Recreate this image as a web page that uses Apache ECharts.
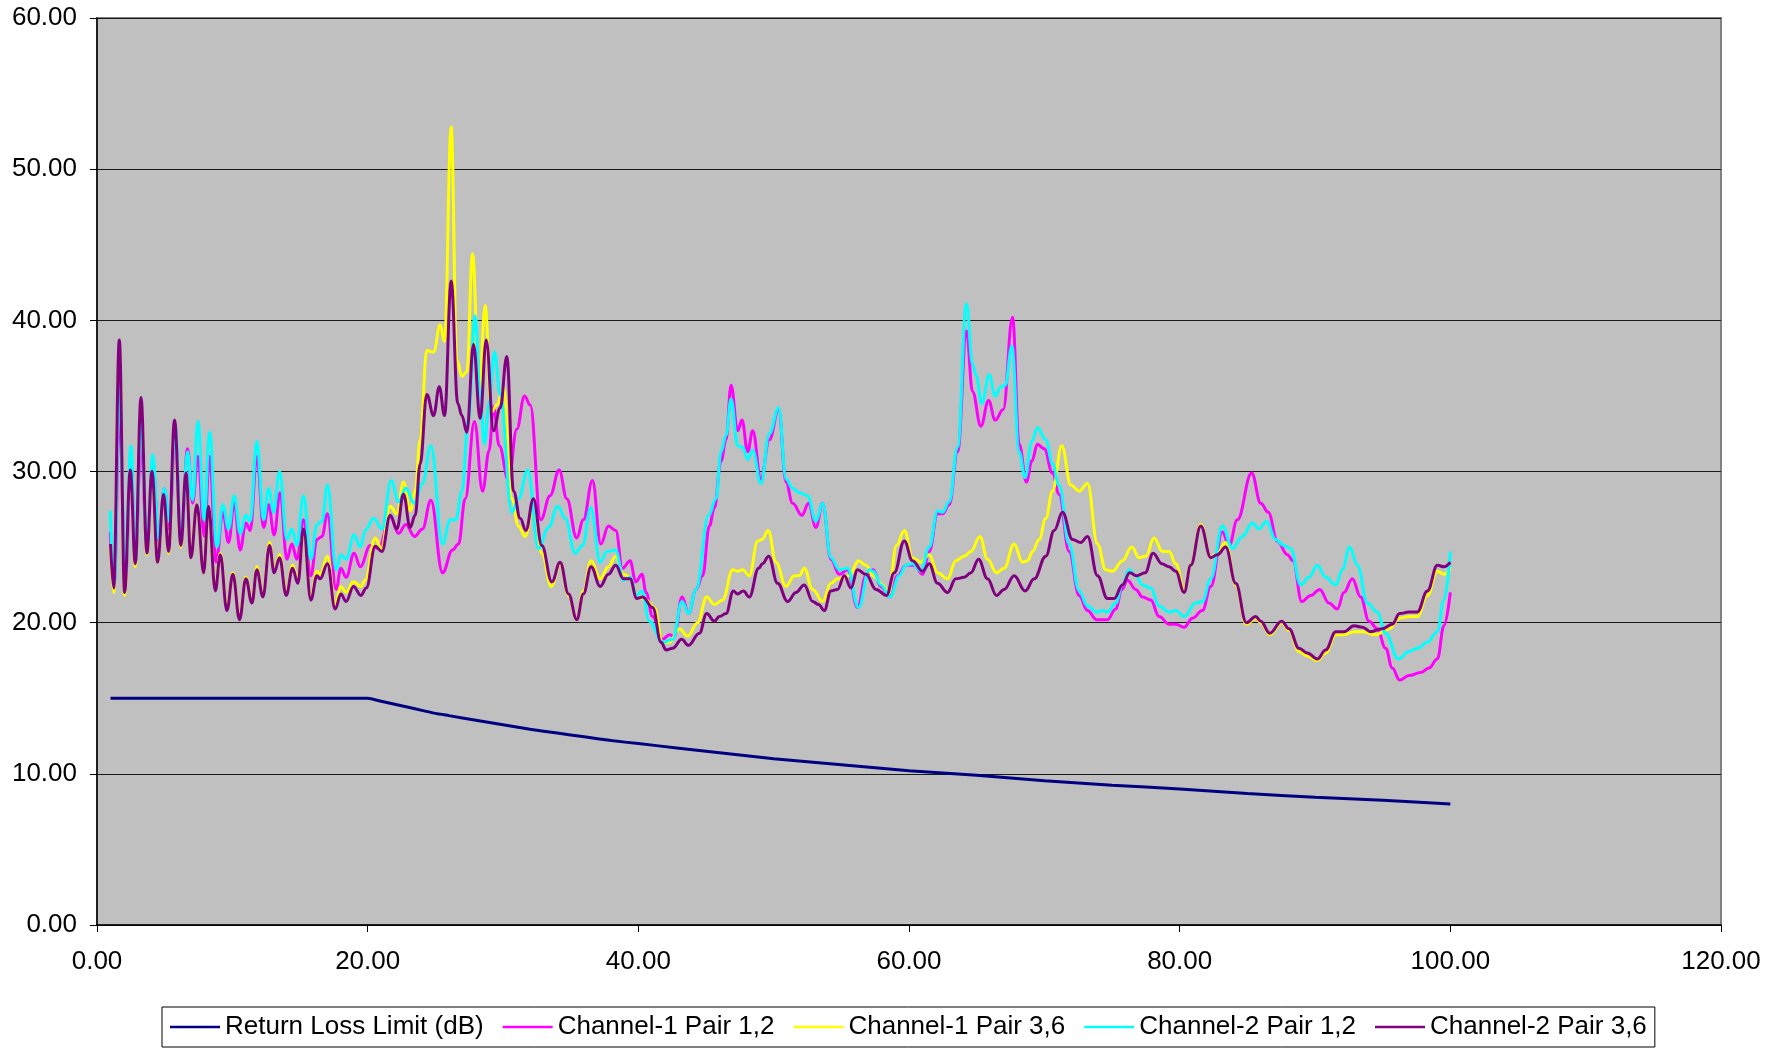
<!DOCTYPE html>
<html>
<head>
<meta charset="utf-8">
<script src="https://cdn.jsdelivr.net/npm/echarts@6.0.0/dist/echarts.min.js"></script>
<style>
html,body{margin:0;padding:0;background:#fff;}
#chart{width:1784px;height:1048px;}
</style>
</head>
<body>
<div id="chart"></div>
<script>
// Series names (legend order)
const seriesNames = ['Return Loss Limit (dB)', 'Channel-1 Pair 1,2', 'Channel-1 Pair 3,6', 'Channel-2 Pair 1,2', 'Channel-2 Pair 3,6'];

// Axis ticks
const xTicks = [0, 20, 40, 60, 80, 100, 120];
const yTicks = [0, 10, 20, 30, 40, 50, 60];

// [frequency MHz, dB]
const returnLossLimit = [[1,15],[20,15],[21,14.8],[22,14.6],[23,14.4],[24,14.2],[25,14.0],[26,13.85],[28,13.55],[30,13.25],[32,12.95],[34,12.7],[36,12.45],[38,12.2],[40,12.0],[43,11.7],[46,11.4],[50,11.0],[55,10.6],[60,10.2],[65,9.9],[70,9.55],[75,9.25],[80,9.0],[85,8.7],[90,8.45],[95,8.25],[100,8.0]];

const ch1Pair12 = [[0.98,26.0],[1.28,22.6],[1.65,34.0],[2.09,22.8],[2.51,30.5],[2.83,24.0],[3.25,32.0],[3.69,25.0],[4.13,30.5],[4.55,25.4],[4.97,28.9],[5.34,26.2],[5.78,32.5],[6.2,25.2],[6.69,31.5],[7.06,27.9],[7.46,31.0],[7.92,25.7],[8.32,31.0],[8.8,24.0],[9.3,27.3],[9.72,25.3],[10.14,27.9],[10.58,24.8],[11.0,26.6],[11.32,26.1],[11.81,31.0],[12.31,26.3],[12.68,27.8],[13.09,25.8],[13.53,28.6],[14.03,24.2],[14.4,25.2],[14.77,24.2],[15.26,26.8],[15.8,23.1],[16.25,25.5],[16.62,25.7],[17.03,27.2],[17.67,22.2],[18.02,23.6],[18.41,23.0],[19.0,24.6],[19.45,23.7],
[20.19,25.1],[20.8,24.9],[21.67,27.0],[22.28,25.9],[22.82,26.5],[23.46,25.7],[24.05,26.2],[24.67,28.1],[25.53,23.3],[26.27,24.8],[26.71,25.2],[27.21,28.2],[27.89,33.3],[28.49,28.7],[28.98,31.4],[29.3,34.3],[29.72,31.7],[30.41,29.4],[31.02,32.8],[31.59,35.0],[32.01,34.4],[32.79,26.8],[33.48,28.4],[34.15,30.1],[34.71,28.2],[35.45,25.6],[35.94,26.8],[36.61,29.4],[37.23,25.2],[37.79,26.4],[38.33,26.1],[38.83,23.6],[39.39,24.1],[39.81,22.7],
[40.27,23.2],[40.57,22.0],[41.06,20.4],[41.8,18.9],[42.29,19.2],[42.66,19.1],[43.23,21.7],[43.72,20.6],[44.26,22.2],[44.75,23.1],[45.25,26.4],[45.62,27.6],[46.11,30.7],[46.48,32.1],[46.85,35.7],[47.34,32.7],[47.66,33.4],[48.08,31.3],[48.45,32.7],[49.06,29.5],[49.68,32.1],[50.37,34.1],[50.91,29.3],[51.4,27.9],[52.09,27.1],[52.58,27.9],[53.12,26.3],[53.62,27.9],[54.23,24.2],[54.85,23.2],[55.46,23.5],[56.2,21.0],[56.82,23.1],[57.36,23.5],[57.92,22.4],[58.59,21.7],[59.16,23.1],[59.77,23.8],
[60.39,23.8],[61.0,23.2],[61.49,24.7],[62.11,27.2],[62.48,27.2],[62.97,27.8],[63.59,31.3],[64.25,39.3],[64.69,35.3],[65.31,33.0],[65.88,34.7],[66.37,33.4],[66.96,34.1],[67.65,40.2],[68.14,31.8],[68.68,29.3],[69.08,30.7],[69.49,31.8],[69.99,31.5],[70.6,29.9],[71.09,28.5],[71.83,24.7],[72.57,21.8],[73.19,20.8],[73.85,20.2],[74.66,20.2],[75.28,20.9],[75.72,22.2],[76.14,22.8],[76.76,22.2],[77.25,21.7],[77.86,21.5],[78.48,20.4],[79.22,19.9],[79.71,19.9],
[80.33,19.7],[80.94,20.3],[81.68,20.8],[82.3,22.4],[83.16,26.0],[83.65,25.1],[84.26,26.8],[85.32,29.9],[85.99,27.9],[86.55,27.3],[87.22,25.4],[87.96,24.5],[88.38,24.1],[89.02,21.4],[89.68,21.8],[90.35,22.2],[91.03,21.3],[91.65,20.9],[92.14,22.0],[92.76,22.9],[93.37,21.7],[93.99,20.1],[94.6,19.6],[95.22,18.3],[95.71,17.0],[96.25,16.2],[96.94,16.5],[97.8,16.7],[98.42,17.0],[99.04,17.6],[99.53,19.8],[100.0,22.0]];

const ch1Pair36 = [[1.0,25.0],[1.23,22.0],[1.65,38.0],[2.04,21.8],[2.46,30.0],[2.83,23.7],[3.25,34.5],[3.69,24.5],[4.06,29.8],[4.48,24.0],[4.92,28.5],[5.29,24.6],[5.73,33.0],[6.2,25.0],[6.57,29.8],[6.94,24.3],[7.38,27.8],[7.88,23.3],[8.24,27.7],[8.74,22.2],[9.11,24.6],[9.6,20.9],[10.04,23.3],[10.53,20.3],[11.0,23.0],[11.45,21.4],[11.81,23.7],[12.26,21.8],[12.75,25.3],[13.09,23.4],[13.49,24.5],[13.98,21.9],[14.45,23.8],[14.84,22.8],[15.26,26.0],[15.8,21.6],[16.25,23.4],[16.49,23.2],[17.03,24.4],[17.6,21.2],[18.02,22.4],[18.41,22.0],[18.95,22.7],[19.5,22.4],
[19.82,22.8],[20.56,25.6],[21.0,24.9],[21.67,27.7],[22.16,27.2],[22.65,29.3],[23.14,27.4],[23.51,28.7],[23.88,32.1],[24.37,38.0],[24.87,37.9],[25.36,39.7],[25.68,38.6],[26.17,52.8],[26.59,37.4],[26.96,36.3],[27.33,36.6],[27.75,44.4],[28.24,35.3],[28.68,41.0],[29.13,33.9],[29.54,34.4],[30.04,35.5],[30.65,28.2],[31.14,26.4],[31.64,25.7],[32.25,27.8],[32.87,24.6],[33.56,22.4],[34.22,23.9],[34.84,21.8],[35.45,20.2],[35.94,22.1],[36.51,24.1],[37.18,22.9],[37.79,23.7],[38.33,24.4],[38.9,23.2],[39.39,23.0],[39.88,21.8],
[40.57,21.5],[41.18,21.0],[41.8,18.7],[42.29,18.7],[43.03,19.6],[43.65,19.1],[44.38,20.0],[45.05,21.7],[45.62,21.2],[46.23,21.5],[46.97,23.5],[47.34,23.4],[47.71,23.5],[48.2,23.1],[48.82,25.4],[49.14,25.5],[49.6,26.1],[50.17,24.0],[50.91,22.4],[51.52,23.1],[51.89,23.1],[52.26,23.6],[52.88,22.2],[53.62,21.4],[54.23,22.6],[54.72,22.9],[55.59,23.1],[56.27,24.1],[56.82,23.8],[57.36,23.1],[58.05,22.5],[58.49,21.9],[59.08,25.1],[59.65,26.1],
[60.26,24.3],[60.88,24.0],[61.49,24.5],[62.11,23.3],[62.85,22.9],[63.46,24.1],[64.08,24.4],[64.57,24.7],[65.24,25.7],[65.8,24.2],[66.47,23.3],[67.03,23.6],[67.77,25.2],[68.39,24.0],[68.76,24.1],[69.12,24.7],[69.62,25.5],[70.11,26.9],[70.6,28.7],[71.29,31.7],[71.96,29.1],[72.57,28.7],[73.19,29.2],[73.93,25.2],[74.54,23.5],[75.03,23.4],[75.77,24.1],[76.46,25.0],[77.0,24.3],[77.5,24.4],[78.11,25.6],[78.73,24.7],[79.22,24.7],[79.71,23.9],
[80.33,22.2],[80.82,23.8],[81.56,26.5],[82.3,24.3],[82.79,24.6],[83.4,25.3],[84.14,22.5],[84.93,19.9],[85.62,20.3],[85.99,20.0],[86.65,19.2],[87.54,20.0],[88.08,19.5],[88.82,18.1],[89.43,17.8],[90.17,17.5],[90.79,18.0],[91.53,19.2],[92.14,19.2],[92.88,19.4],[93.5,19.4],[94.48,19.2],[95.47,19.6],[96.25,20.3],[96.94,20.4],[97.56,20.4],[98.3,21.8],[99.04,23.4],[99.53,23.2],[100.0,23.6]];

const ch2Pair12 = [[0.98,27.4],[1.28,22.6],[1.65,36.0],[2.09,23.1],[2.51,31.7],[2.83,24.0],[3.25,33.5],[3.69,25.1],[4.13,31.1],[4.55,25.5],[4.97,28.9],[5.34,26.7],[5.78,33.0],[6.2,25.3],[6.69,31.3],[7.06,28.1],[7.46,33.3],[7.92,26.8],[8.32,32.6],[8.86,25.0],[9.3,27.8],[9.72,26.2],[10.14,28.4],[10.58,25.9],[11.0,27.1],[11.32,26.7],[11.81,32.0],[12.31,26.8],[12.68,28.9],[13.05,27.3],[13.49,30.0],[14.03,25.5],[14.4,26.2],[14.77,25.1],[15.26,28.4],[15.8,24.2],[16.25,26.5],[16.62,26.7],[17.03,29.1],[17.67,23.5],[18.02,24.5],[18.41,24.2],[19.0,25.8],[19.45,25.0],
[19.82,26.1],[20.44,26.9],[21.05,26.2],[21.74,29.4],[22.28,28.0],[22.82,28.9],[23.46,27.9],[24.05,29.2],[24.67,31.7],[25.53,25.2],[26.1,26.8],[26.52,26.8],[26.96,28.7],[27.45,33.5],[27.94,40.3],[28.31,35.1],[28.63,31.8],[28.98,34.6],[29.37,37.9],[29.79,35.1],[30.65,27.3],[31.14,28.2],[31.83,30.1],[32.62,24.9],[33.36,26.3],[34.05,27.7],[34.59,26.9],[35.33,24.6],[35.87,25.1],[36.49,27.6],[37.18,24.0],[37.67,24.7],[38.33,24.8],[38.9,22.8],[39.39,23.0],[39.88,21.8],
[40.27,22.1],[40.81,20.1],[41.8,18.7],[42.54,18.9],[43.23,21.4],[43.72,20.6],[44.26,22.2],[45.2,27.1],[45.74,28.2],[46.11,31.3],[46.48,32.4],[46.85,34.8],[47.34,31.7],[47.71,31.6],[48.08,30.8],[48.45,31.4],[49.06,29.2],[49.68,32.5],[50.37,34.2],[50.91,29.5],[51.4,28.9],[51.89,28.6],[52.51,28.4],[53.12,26.7],[53.62,27.9],[54.23,24.3],[54.85,23.5],[55.46,23.6],[56.27,21.0],[57.06,23.5],[57.36,23.4],[57.92,22.5],[58.59,21.7],[59.28,23.1],[59.77,23.8],
[60.26,23.9],[60.88,23.4],[61.49,25.0],[62.11,27.4],[62.48,27.3],[62.97,28.0],[63.59,31.6],[64.25,41.1],[64.69,37.1],[64.94,36.4],[65.38,34.5],[65.92,36.4],[66.37,35.0],[66.79,35.6],[67.11,35.7],[67.6,38.3],[68.14,31.3],[68.58,29.6],[69.08,32.0],[69.49,32.9],[70.11,32.1],[70.6,30.5],[71.09,29.1],[71.83,25.2],[72.57,22.1],[73.19,21.1],[73.85,20.7],[74.3,20.8],[74.66,20.7],[75.28,21.3],[75.77,22.5],[76.26,23.5],[76.76,23.1],[77.25,22.5],[77.86,22.3],[78.48,21.1],[79.22,20.7],[79.71,20.8],
[80.33,20.4],[81.19,21.3],[81.68,21.4],[82.3,22.9],[83.16,26.4],[83.9,24.9],[84.63,25.7],[85.37,26.6],[85.86,26.2],[86.41,26.7],[87.1,25.5],[87.71,25.1],[88.2,24.9],[88.94,22.5],[89.56,23.0],[90.17,23.8],[90.79,23.0],[91.53,22.5],[92.02,23.5],[92.56,25.0],[93.13,23.8],[93.87,21.3],[94.6,20.7],[95.22,19.3],[96.15,17.6],[96.94,18.1],[97.56,18.3],[98.3,18.7],[99.04,19.4],[99.53,21.5],[100.0,24.7]];

const ch2Pair36 = [[1.0,25.2],[1.23,22.3],[1.65,38.7],[2.04,22.0],[2.46,30.1],[2.83,23.9],[3.25,34.9],[3.69,24.6],[4.06,30.0],[4.48,24.0],[4.92,28.5],[5.29,24.7],[5.73,33.4],[6.2,25.1],[6.57,29.9],[6.94,24.3],[7.38,27.8],[7.88,23.3],[8.24,27.7],[8.74,22.1],[9.11,24.5],[9.6,20.8],[10.04,23.2],[10.53,20.2],[11.0,22.9],[11.45,21.3],[11.81,23.5],[12.26,21.7],[12.75,25.1],[13.09,23.3],[13.49,24.3],[13.98,21.8],[14.45,23.6],[14.84,22.6],[15.26,26.2],[15.8,21.5],[16.25,23.1],[16.49,22.9],[17.03,23.9],[17.6,20.9],[18.02,21.9],[18.41,21.4],[18.95,22.4],[19.5,21.8],
[19.9,22.3],[20.56,25.05],[21.05,24.7],[21.67,27.1],[22.16,26.2],[22.65,28.5],[23.14,26.3],[23.51,27.1],[23.88,30.5],[24.37,35.1],[24.87,33.7],[25.29,35.6],[25.68,33.7],[26.17,42.6],[26.66,34.5],[26.96,33.7],[27.33,32.6],[27.82,38.4],[28.31,33.5],[28.76,38.7],[29.3,32.7],[29.79,34.2],[30.28,37.6],[30.78,28.7],[31.27,26.9],[31.69,26.1],[32.25,28.2],[32.87,25.1],[33.61,22.7],[34.22,24.0],[34.84,21.9],[35.45,20.2],[35.94,21.9],[36.51,23.7],[37.18,22.4],[37.79,23.2],[38.33,23.8],[38.9,22.9],[39.39,22.9],[39.88,21.6],
[40.32,21.7],[41.06,21.0],[41.68,18.7],[42.05,18.2],[42.54,18.3],[43.2,18.9],[43.7,18.5],[44.51,19.3],[45.05,20.6],[45.62,20.1],[45.98,20.4],[46.48,20.6],[47.02,22.1],[47.34,21.9],[47.76,22.1],[48.2,21.7],[48.89,23.6],[49.18,23.9],[49.63,24.4],[50.29,22.6],[51.03,21.4],[51.65,22.0],[52.26,22.5],[52.88,21.4],[53.32,21.2],[53.74,20.8],[54.23,22.1],[54.72,22.2],[55.22,23.1],[55.71,22.3],[56.2,23.5],[56.82,23.2],[57.56,22.2],[58.34,21.8],[58.91,23.3],[59.65,25.4],
[60.26,24.1],[61.0,23.4],[61.49,23.9],[62.11,22.6],[62.85,22.0],[63.46,22.9],[64.08,23.0],[64.57,23.3],[65.14,24.2],[65.8,22.9],[66.47,21.8],[67.03,22.2],[67.77,23.1],[68.58,22.1],[69.25,22.9],[70.11,24.4],[70.73,26.1],[71.34,27.3],[72.08,25.5],[72.69,25.3],[73.19,25.7],[73.93,23.1],[74.66,21.6],[75.16,21.6],[75.77,22.5],[76.31,23.3],[76.81,23.1],[77.45,23.3],[78.04,24.6],[78.68,23.9],[79.22,23.7],[79.71,23.4],
[80.33,22.0],[80.82,23.8],[81.56,26.4],[82.3,24.3],[82.79,24.5],[83.4,25.0],[84.14,22.6],[84.93,20.0],[85.62,20.4],[85.99,20.1],[86.65,19.3],[87.54,20.1],[88.08,19.6],[88.82,18.3],[89.43,18.0],[90.17,17.6],[90.79,18.2],[91.53,19.4],[92.14,19.4],[92.88,19.8],[93.5,19.7],[94.11,19.4],[94.97,19.6],[95.71,19.9],[96.25,20.6],[96.94,20.7],[97.56,20.7],[98.3,22.1],[99.04,23.8],[99.53,23.7],[100.0,24.0]];

const seriesData = [returnLossLimit, ch1Pair12, ch1Pair36, ch2Pair12, ch2Pair36];
const seriesColors = ['#000080', '#FF00FF', '#FFFF00', '#00FFFF', '#800080'];

const FONT = "'Liberation Sans', Arial, sans-serif";
const chart = echarts.init(document.getElementById('chart'), null, {renderer: 'canvas'});

const series = seriesNames.map((name, i) => ({
  name: name,
  type: 'line',
  data: seriesData[i],
  symbol: 'none',
  showSymbol: false,
  smooth: i === 0 ? 0.2 : 0.4,
  smoothMonotone: i === 0 ? undefined : 'x',
  lineStyle: {color: seriesColors[i], width: 3},
  itemStyle: {color: seriesColors[i]},
  z: 2 + i,
  animation: false
}));

chart.setOption({
  animation: false,
  backgroundColor: '#ffffff',
  grid: {
    left: 97, right: 63, top: 18, bottom: 123,
    show: true,
    backgroundColor: '#C0C0C0',
    borderColor: '#808080',
    borderWidth: 2
  },
  xAxis: {
    type: 'value',
    min: xTicks[0], max: xTicks[xTicks.length - 1], interval: 20,
    axisLine: {show: true, onZero: false, lineStyle: {color: '#000', width: 1.5}},
    axisTick: {show: true, inside: false, length: 7, lineStyle: {color: '#000', width: 1}},
    axisLabel: {margin: 24, color: '#000', fontSize: 26, fontFamily: FONT, formatter: v => v.toFixed(2)},
    splitLine: {show: false}
  },
  yAxis: {
    type: 'value',
    min: yTicks[0], max: yTicks[yTicks.length - 1], interval: 10,
    axisLine: {show: true, onZero: false, lineStyle: {color: '#000', width: 1.5}},
    axisTick: {show: true, inside: false, length: 7, lineStyle: {color: '#000', width: 1}},
    axisLabel: {margin: 20, color: '#000', fontSize: 26, fontFamily: FONT, formatter: v => v.toFixed(2)},
    splitLine: {show: true, lineStyle: {color: '#1a1a1a', width: 1}}
  },
  legend: {
    data: seriesNames.map(n => ({name: n, icon: 'rect'})),
    left: 162, top: 1007,
    orient: 'horizontal',
    itemWidth: 50, itemHeight: 2.5, itemGap: 19,
    padding: [7, 8, 7, 8],
    borderColor: '#000', borderWidth: 1,
    backgroundColor: '#fff',
    textStyle: {color: '#000', fontSize: 26, fontFamily: FONT},
    selectedMode: false
  },
  series: series
});
</script>
</body>
</html>
